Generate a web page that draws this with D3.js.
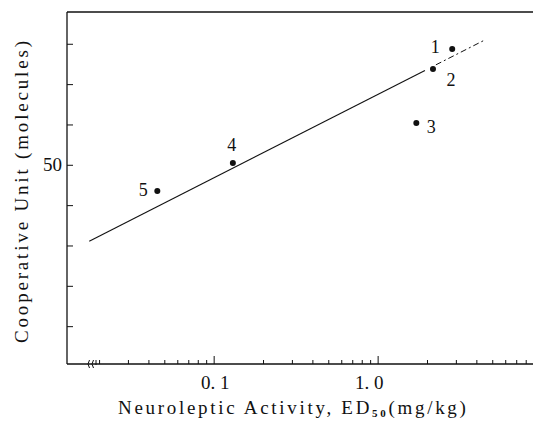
<!DOCTYPE html>
<html><head><meta charset="utf-8">
<script src="https://cdn.jsdelivr.net/npm/d3@7"></script>
<style>
html,body{margin:0;padding:0;background:#fff;}
svg{display:block;}
</style></head>
<body>
<svg id="chart" width="533" height="423" font-family="'Liberation Serif','DejaVu Serif','Times New Roman',serif"></svg>
<script>
// ---- data ----
const pointIds   = ["1", "2", "3", "4", "5"];
const ed50       = [2.83, 2.16, 1.71, 0.13, 0.045];   // mg/kg
const coopUnit   = [78.8, 73.9, 60.5, 50.6, 43.6];    // molecules
const fitSolidX  = [0.0173, 1.93];
const fitSolidY  = [31.2, 73.5];
const fitDashX   = [2.25, 4.49];
const fitDashY   = [74.9, 81.1];
const xMajorTicks = [0.1, 1.0];
const xTickLabels = ["0. 1", "1. 0"];
const yTicks      = [10, 20, 30, 40, 50, 60, 70, 80];
const yTickLabels = {50: "50"};

(function () {
const svg = d3.select("#chart");
const pL = 67, pT = 12, pB = 364, pR = 533;

const x = d3.scaleLog().domain([0.01266, 8.8]).range([pL, pR]);
const y = d3.scaleLinear().domain([0, 88]).range([367, pT]);

const ink = "#111";

svg.append("line").attr("x1", pL).attr("x2", pL).attr("y1", pT).attr("y2", pB)
  .attr("stroke", ink).attr("stroke-width", 1.3);
svg.append("line").attr("x1", pL).attr("x2", pR).attr("y1", pT).attr("y2", pT)
  .attr("stroke", ink).attr("stroke-width", 1.3);
svg.append("line").attr("x1", pL).attr("x2", pR).attr("y1", pB).attr("y2", pB)
  .attr("stroke", ink).attr("stroke-width", 1.3);

// axis break marks
[88, 92].forEach(bx => {
  svg.append("path")
    .attr("d", `M${bx+1.5},${pB-4} Q${bx-1.5},${pB} ${bx+1.5},${pB+4}`)
    .attr("fill", "none").attr("stroke", ink).attr("stroke-width", 1);
});
svg.append("line").attr("x1", 96).attr("x2", 96).attr("y1", pB-4).attr("y2", pB+1)
  .attr("stroke", ink).attr("stroke-width", 1);

// x ticks (log minors)
const xTicks = [];
[0.01, 0.1, 1].forEach(dec => {
  for (let k = 1; k <= 9; k++) {
    const v = +(dec * k).toPrecision(3);
    if (v >= 0.02 && v <= 8.8) xTicks.push(v);
  }
});
svg.append("g").selectAll("line").data(xTicks).join("line")
  .attr("x1", d => x(d)).attr("x2", d => x(d))
  .attr("y1", pB)
  .attr("y2", d => xMajorTicks.includes(d) ? pB - 8 : pB - 4)
  .attr("stroke", ink).attr("stroke-width", 1);

svg.append("g").selectAll("text").data(xMajorTicks).join("text")
  .attr("x", (d, i) => x(d) + (i === 0 ? 1 : -9)).attr("y", 389)
  .attr("text-anchor", "middle").attr("font-size", 19).attr("fill", ink)
  .text((d, i) => xTickLabels[i]);

// y ticks
svg.append("g").selectAll("line").data(yTicks).join("line")
  .attr("x1", pL).attr("x2", pL + 6)
  .attr("y1", d => y(d)).attr("y2", d => y(d))
  .attr("stroke", ink).attr("stroke-width", 1);
svg.append("g").selectAll("text").data(yTicks.filter(d => yTickLabels[d])).join("text")
  .attr("x", 62).attr("y", d => y(d) + 6)
  .attr("text-anchor", "end").attr("font-size", 19).attr("fill", ink)
  .text(d => yTickLabels[d]);

// fit line
const line = d3.line().x(d => x(d[0])).y(d => y(d[1]));
svg.append("path").datum(d3.zip(fitSolidX, fitSolidY)).attr("d", line)
  .attr("fill", "none").attr("stroke", ink).attr("stroke-width", 1.1);
svg.append("path").datum(d3.zip(fitDashX, fitDashY)).attr("d", line)
  .attr("fill", "none").attr("stroke", ink).attr("stroke-width", 1)
  .attr("stroke-dasharray", "6,3,2,3");

// points
const pts = pointIds.map((id, i) => ({id, x: ed50[i], y: coopUnit[i]}));
svg.append("g").selectAll("circle").data(pts).join("circle")
  .attr("cx", d => x(d.x)).attr("cy", d => y(d.y)).attr("r", 3)
  .attr("fill", ink);

// point labels
const labelOffsets = {"1": [-17, 4], "2": [18, 17], "3": [15, 10], "4": [-1, -12], "5": [-14, 5]};
svg.append("g").selectAll("text").data(pts).join("text")
  .attr("x", d => x(d.x) + labelOffsets[d.id][0])
  .attr("y", d => y(d.y) + labelOffsets[d.id][1])
  .attr("text-anchor", "middle").attr("font-size", 18).attr("fill", ink)
  .text(d => d.id);

// axis titles
const xt = svg.append("text").attr("x", 118).attr("y", 414).attr("font-size", 19)
  .attr("letter-spacing", "2.7").attr("fill", ink);
xt.append("tspan").text("Neuroleptic  Activity, ED");
xt.append("tspan").attr("font-size", 11).attr("font-weight", "bold").attr("dy", 3).text("50");
xt.append("tspan").attr("dy", -3).text("(mg/kg)");

svg.append("text")
  .attr("transform", "translate(28,192) rotate(-90)")
  .attr("text-anchor", "middle").attr("font-size", 19).attr("fill", ink)
  .attr("textLength", 302).attr("lengthAdjust", "spacing")
  .text("Cooperative  Unit (molecules)");
})();
</script>
</body></html>
